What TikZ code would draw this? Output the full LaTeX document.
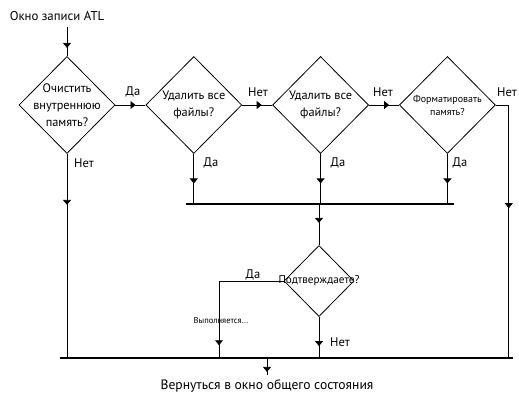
\documentclass[tikz,border=0pt]{standalone}
\usepackage{fontspec}
\setmainfont{PT Sans}
\usepackage{tikz}
\usetikzlibrary{
    shapes.geometric, arrows.meta, positioning, decorations.markings
}

\begin{document}
\begin{tikzpicture}[x=1pt, y=1pt, font=\fontsize{12.8}{15}\selectfont]
    \tikzstyle{decision} = [
        diamond, draw, aspect=1, inner sep=0pt,
        line width=0.8pt, minimum width=96pt, minimum height=97pt
    ]

    \tikzstyle{label} = [inner sep=1pt, font=\fontsize{12.5}{14}\selectfont]

    \tikzstyle{line} = [draw, line width=0.8pt]

    \tikzstyle{bus} = [draw, line width=2.2pt]

    \tikzset{
        flowat/.style={
            line, postaction={decorate},
            decoration={markings,
                mark=at position #1 with {\arrow{Triangle[width=8pt,length=5pt]}}}
        },
        dtext/.style={align=center, inner sep=0pt, font=\fontsize{12.3}{17}\selectfont}
    }

    \useasboundingbox (0,0) rectangle (519,398);

    % Title
    \node (title) at (57,382) {Окно записи ATL};

    % Decisions in a row
    \node[decision] (clear) at (67,293) {};
    \node[decision, right=30pt of clear] (delall) {};
    \node[decision, right=30pt of delall] (delall2) {};
    \node[decision, right=30pt of delall2] (format) {};

    \node[dtext] (clear_t) at (clear) {Очистить\\внутреннюю\\память?};
    \node[dtext] (delall_t) at (delall) {Удалить все\\файлы?};
    \node[dtext] (delall2_t) at (delall2) {Удалить все\\файлы?};
    \node[dtext, font=\fontsize{10}{13}\selectfont] (format_t) at (format)
        {Форматировать\\память?};

    % Confirmation
    \node[decision, minimum width=70pt, minimum height=71pt] (confirm) at (319,117) {};
    \node[dtext, font=\fontsize{11.2}{13}\selectfont] (confirm_t) at (confirm)
        {Подтверждаете?};

    % Buses
    \coordinate (bus1w) at (186,194);
    \coordinate (bus1e) at (454,194);
    \coordinate (bus2w) at (60,40);
    \coordinate (bus2e) at (513,40);
    \draw[bus] (bus1w) -- (bus1e);
    \draw[bus] (bus2w) -- (bus2e);

    % Exit
    \node[font=\fontsize{13.6}{15}\selectfont] (back) at (267,12)
        {Вернуться в окно общего состояния};
    \coordinate (backtop) at (267,23);

    % Connectors
    \draw[flowat=0.72] (clear.north |- 0,371) -- (clear.north);
    \draw[flowat=0.67] (clear.east) -- (delall.west);
    \draw[flowat=0.65] (delall.east) -- (delall2.west);
    \draw[flowat=0.67] (delall2.east) -- (format.west);
    \draw[flowat=0.43] (format.east) -- ++(13,0) |- (bus2e);
    \draw[flowat=0.25] (clear.south) -- (clear.south |- bus2w);
    \draw[flowat=0.59] (delall.south) -- (delall.south |- bus1w);
    \draw[flowat=0.59] (delall2.south) -- (delall2.south |- bus1w);
    \draw[flowat=0.59] (format.south) -- (format.south |- bus1w);
    \draw[flowat=0.46] (confirm.north |- bus1w) -- (confirm.north);
    \draw[flowat=0.91] (confirm.west) -| (219,40);
    \draw[flowat=0.71] (confirm.south) -- (confirm.south |- bus2w);
    \draw[flowat=0.82] (backtop |- bus2w) -- (backtop);

    % Labels
    \node[label] at (133,306) {Да};
    \node[label] at (258,306) {Нет};
    \node[label] at (383,306) {Нет};
    \node[label] at (507,306) {Нет};
    \node[label] at (84,235) {Нет};
    \node[label] at (211,235) {Да};
    \node[label] at (338,235) {Да};
    \node[label] at (460,235) {Да};
    \node[label] at (253,123) {Да};
    \node[label, font=\fontsize{8.5}{9}\selectfont] at (221,77) {Выполняется...};
    \node[label] at (340,56) {Нет};
\end{tikzpicture}
\end{document}
